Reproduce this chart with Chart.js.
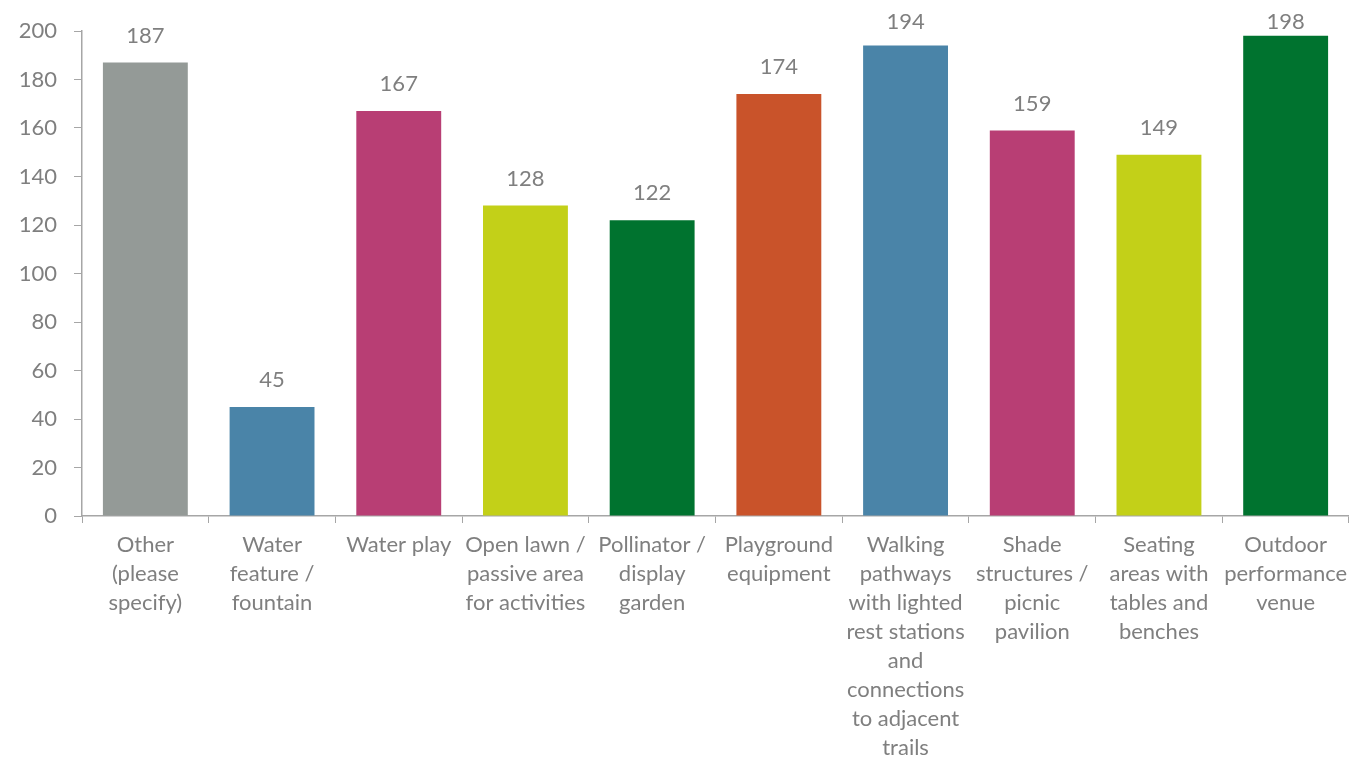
<!DOCTYPE html>
<html>
<head>
<meta charset="utf-8">
<script src="https://cdn.jsdelivr.net/npm/chart.js@4/dist/chart.umd.min.js"></script>
<style>
  html, body { margin: 0; padding: 0; background: #fff; }
  #wrap { width: 1349px; height: 760px; position: relative; }
</style>
</head>
<body>
<div id="wrap"><canvas id="grafica"></canvas></div>
<script>
// categorias (ya partidas en lineas como en el original)
var categorias = [
  ["Other", "(please", "specify)"],
  ["Water", "feature /", "fountain"],
  ["Water play"],
  ["Open lawn /", "passive area", "for activities"],
  ["Pollinator /", "display", "garden"],
  ["Playground", "equipment"],
  ["Walking", "pathways", "with lighted", "rest stations", "and", "connections", "to adjacent", "trails"],
  ["Shade", "structures /", "picnic", "pavilion"],
  ["Seating", "areas with", "tables and", "benches"],
  ["Outdoor", "performance", "venue"]
];
var valores = [187, 45, 167, 128, 122, 174, 194, 159, 149, 198];
var colores = ["#949a97", "#4a84a8", "#b83e74", "#c3d018", "#00732f", "#c9532a", "#4a84a8", "#b83e74", "#c3d018", "#00732f"];
var ticksY = [0, 20, 40, 60, 80, 100, 120, 140, 160, 180, 200];

var gris = "#7f7f7f";
var ejeColor = "#a6a6a6";
var fuente = "Lato, 'Open Sans', sans-serif";

// etiquetas de valor encima de cada barra
var etiquetasValor = {
  id: 'etiquetasValor',
  afterDatasetsDraw: function(chart) {
    var ctx = chart.ctx;
    var meta = chart.getDatasetMeta(0);
    ctx.save();
    ctx.font = "22px " + fuente;
    ctx.fillStyle = gris;
    ctx.textAlign = "center";
    ctx.textBaseline = "middle";
    meta.data.forEach(function(bar, i) {
      // como en excel, no se salen por arriba
      ctx.fillText(String(valores[i]), bar.x, Math.max(bar.y - 27, 22));
    });
    ctx.restore();
  }
};

var grafica = new Chart(document.getElementById("grafica"), {
  type: 'bar',
  data: {
    labels: categorias,
    datasets: [{
      data: valores,
      backgroundColor: colores,
      categoryPercentage: 1,
      barPercentage: 0.67
    }]
  },
  options: {
    responsive: true,
    maintainAspectRatio: false,
    animation: false,
    layout: { padding: { top: 31, right: 0, left: 0, bottom: 0 } },
    plugins: {
      legend: { display: false },
      tooltip: { enabled: false }
    },
    scales: {
      x: {
        grid: { display: true, drawOnChartArea: false, color: ejeColor, tickLength: 7, offset: true },
        border: { color: ejeColor, width: 1.5 },
        ticks: {
          color: gris,
          font: { family: fuente, size: 22, lineHeight: 1.32 },
          maxRotation: 0, minRotation: 0, autoSkip: false, padding: 7
        },
        afterFit: function(scale) {
          scale.height = 244;
          scale.paddingLeft = 0;
          scale.paddingRight = 0;
        }
      },
      y: {
        min: 0, max: 200,
        afterBuildTicks: function(scale) {
          scale.ticks = ticksY.map(function(v) { return { value: v }; });
        },
        grid: { display: true, drawOnChartArea: false, color: ejeColor, tickLength: 8 },
        border: { color: ejeColor, width: 1.5 },
        ticks: {
          color: gris,
          font: { family: fuente, size: 22 },
          padding: 17
        },
        afterFit: function(scale) { scale.width = 82; }
      }
    }
  },
  plugins: [etiquetasValor]
});
</script>
</body>
</html>
